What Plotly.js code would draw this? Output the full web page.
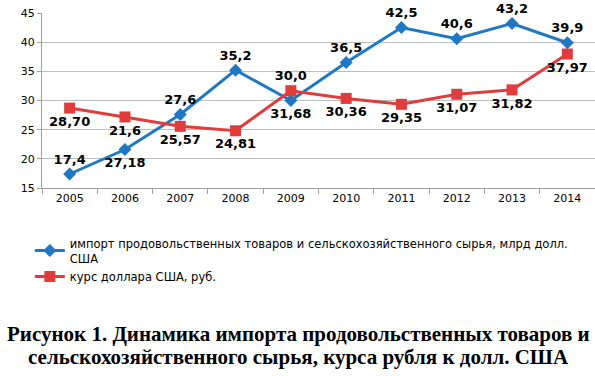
<!DOCTYPE html>
<html>
<head>
<meta charset="utf-8">
<script src="https://cdn.plot.ly/plotly-3.0.1.min.js"></script>
<style>html,body{margin:0;padding:0;background:#fff;}#chart{width:595px;height:376px;}</style>
</head>
<body>
<div id="chart"></div>
<script>
var years = ['2005','2006','2007','2008','2009','2010','2011','2012','2013','2014'];
var importValues = [17.4, 21.6, 27.6, 35.2, 30.0, 36.5, 42.5, 40.6, 43.2, 39.9];
var rateValues = [28.70, 27.18, 25.57, 24.81, 31.68, 30.36, 29.35, 31.07, 31.82, 37.97];
var importLabels = ['17,4','27,18','27,6','35,2','31,68','36,5','42,5','40,6','43,2','39,9'];
var rateLabels = ['28,70','21,6','25,57','24,81','30,0','30,36','29,35','31,07','31,82','37,97'];
var importLabelPos = ['top center','bottom center','top center','top center','bottom center','top center','top center','top center','top center','top center'];
var rateLabelPos = ['bottom center','bottom center','bottom center','bottom center','top center','bottom center','bottom center','bottom center','bottom center','bottom center'];
var seriesNames = ['импорт продовольственных товаров и сельскохозяйственного сырья, млрд долл.<br>США', 'курс доллара США, руб.'];
var yTicks = [15, 20, 25, 30, 35, 40, 45];
var titleLines = ['<b>Рисунок 1. Динамика импорта продовольственных товаров и</b>', '<b>сельскохозяйственного сырья, курса рубля к долл. США</b>'];

var blue = '#1f78c1', red = '#e03c3c';
var labelFont = {family: 'DejaVu Sans', size: 13, color: '#000'};

var traces = [
  {x: years, y: importValues, name: seriesNames[0], type: 'scatter', mode: 'lines+markers+text',
   text: importLabels, textposition: importLabelPos, textfont: labelFont,
   line: {color: blue, width: 3}, marker: {symbol: 'diamond', size: 10, color: blue}, cliponaxis: false, hoverinfo: 'skip'},
  {x: years, y: rateValues, name: seriesNames[1], type: 'scatter', mode: 'lines+markers+text',
   text: rateLabels, textposition: rateLabelPos, textfont: labelFont,
   line: {color: red, width: 3}, marker: {symbol: 'square', size: 11, color: red}, cliponaxis: false, hoverinfo: 'skip'}
];
traces.forEach(function(t){ t.texttemplate = '<b>%{text}</b>'; });

var layout = {
  width: 595, height: 376,
  margin: {l: 42, r: 0, t: 13, b: 188},
  paper_bgcolor: '#fff', plot_bgcolor: '#fff',
  showlegend: true,
  legend: {x: -0.022, y: -0.235, xanchor: 'left', yanchor: 'top', font: {family: 'DejaVu Sans', size: 11.5, color: '#000'}, bgcolor: 'rgba(0,0,0,0)', tracegroupgap: 0},
  xaxis: {type: 'category', range: [-0.5, 9.5], showgrid: false, showline: true, linecolor: '#a0a0a0', linewidth: 1,
          ticks: 'outside', ticklen: 5, tickcolor: '#a0a0a0', tickson: 'boundaries',
          tickfont: {family: 'DejaVu Sans', size: 11, color: '#000'}, fixedrange: true},
  yaxis: {range: [15, 45], tickvals: yTicks, showgrid: true, gridcolor: '#bdbdbd', gridwidth: 1, zeroline: false,
          showline: true, linecolor: '#a0a0a0', ticks: 'outside', ticklen: 4, tickcolor: '#a0a0a0',
          tickfont: {family: 'DejaVu Sans', size: 11, color: '#000'}, fixedrange: true},
  annotations: [
    {text: titleLines[0], xref: 'paper', yref: 'paper', x: 0.464, y: (188 - 334) / 175, xanchor: 'center', yanchor: 'middle', showarrow: false,
     font: {family: 'Liberation Serif', size: 21, color: '#000'}},
    {text: titleLines[1], xref: 'paper', yref: 'paper', x: 0.464, y: (188 - 357) / 175, xanchor: 'center', yanchor: 'middle', showarrow: false,
     font: {family: 'Liberation Serif', size: 21, color: '#000'}}
  ]
};

Plotly.newPlot('chart', traces, layout, {displayModeBar: false, staticPlot: true});
</script>
</body>
</html>
